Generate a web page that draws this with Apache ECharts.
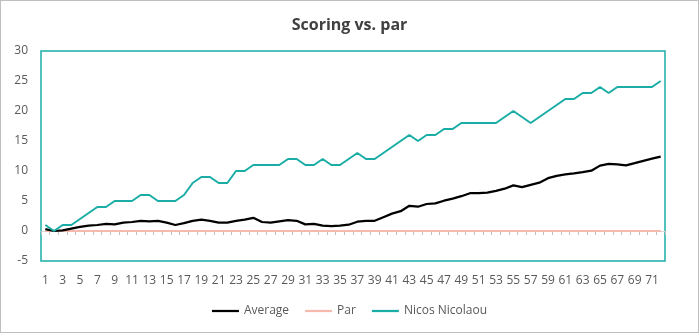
<!DOCTYPE html>
<html>
<head>
<meta charset="utf-8">
<script src="https://cdn.jsdelivr.net/npm/echarts@6/dist/echarts.min.js"></script>
<style>
html,body{margin:0;padding:0;background:#fff;}
#c{width:699px;height:333px;box-sizing:border-box;border:1px solid #bfbfbf;}
</style>
</head>
<body>
<div id="c"></div>
<script>
const rounds = ['1','2','3','4','5','6','7','8','9','10','11','12','13','14','15','16','17','18','19','20','21','22','23','24','25','26','27','28','29','30','31','32','33','34','35','36','37','38','39','40','41','42','43','44','45','46','47','48','49','50','51','52','53','54','55','56','57','58','59','60','61','62','63','64','65','66','67','68','69','70','71','72'];
const average = [0.3,0.0,0.1,0.4,0.7,0.9,1.0,1.2,1.1,1.4,1.5,1.7,1.6,1.7,1.4,1.0,1.3,1.7,1.9,1.7,1.4,1.4,1.7,1.9,2.2,1.5,1.4,1.6,1.8,1.7,1.1,1.2,0.9,0.8,0.9,1.05,1.55,1.7,1.7,2.3,2.9,3.3,4.2,4.05,4.5,4.6,5.05,5.4,5.8,6.3,6.3,6.4,6.7,7.05,7.6,7.3,7.7,8.05,8.8,9.2,9.45,9.6,9.8,10.05,10.9,11.2,11.1,10.95,11.3,11.7,12.05,12.4];
const par = [0,0,0,0,0,0,0,0,0,0,0,0,0,0,0,0,0,0,0,0,0,0,0,0,0,0,0,0,0,0,0,0,0,0,0,0,0,0,0,0,0,0,0,0,0,0,0,0,0,0,0,0,0,0,0,0,0,0,0,0,0,0,0,0,0,0,0,0,0,0,0,0];
const nicos = [1,0,1,1,2,3,4,4,5,5,5,6,6,5,5,5,6,8,9,9,8,8,10,10,11,11,11,11,12,12,11,11,12,11,11,12,13,12,12,13,14,15,16,15,16,16,17,17,18,18,18,18,18,19,20,19,18,19,20,21,22,22,23,23,24,23,24,24,24,24,24,25];
const yTicks = {min:-5, max:30, step:5};

const FONT = '"Open Sans", "Noto Sans", sans-serif';
const TEAL = '#1aada5';
const chart = echarts.init(document.getElementById('c'), null, {renderer:'canvas'});
chart.setOption({
  animation:false,
  backgroundColor:'#fff',
  title:{
    text:'Scoring vs. par', left:'center', top:11,
    textStyle:{fontFamily:FONT, fontSize:16, fontWeight:'bold', color:'#404040'}
  },
  legend:{
    bottom:10, left:'center', icon:'rect', itemWidth:27, itemHeight:2.25, itemGap:16,
    textStyle:{fontFamily:FONT, fontSize:12, color:'#595959'},
    data:['Average','Par','Nicos Nicolaou']
  },
  grid:{left:40, right:33, top:50, bottom:71, show:true, borderColor:TEAL, borderWidth:1.5, containLabel:false},
  xAxis:[{
    type:'category', data:rounds, boundaryGap:true, position:'bottom',
    axisLine:{show:true, onZero:true, lineStyle:{color:'#d9d9d9', width:1}},
    axisTick:{show:true, interval:0, inside:false, length:4, lineStyle:{color:'#bfbfbf'}},
    axisLabel:{show:false}
  },{
    type:'category', data:rounds, boundaryGap:true, position:'bottom',
    axisLine:{show:false, onZero:false}, axisTick:{show:false},
    axisLabel:{show:true, interval:1, margin:14, fontFamily:FONT, fontSize:12, color:'#595959'}
  }],
  yAxis:{
    type:'value', min:yTicks.min, max:yTicks.max, interval:yTicks.step,
    axisLine:{show:false}, axisTick:{show:false}, splitLine:{show:false},
    axisLabel:{margin:13, fontFamily:FONT, fontSize:12, color:'#595959'}
  },
  series:[
    {name:'Average', type:'line', data:average, xAxisIndex:0, symbol:'none', lineStyle:{color:'#000', width:2.25}, itemStyle:{color:'#000'}, z:3},
    {name:'Par', type:'line', data:par, xAxisIndex:0, symbol:'none', lineStyle:{color:'#f7b9ad', width:2}, itemStyle:{color:'#f7b9ad'}, z:2},
    {name:'Nicos Nicolaou', type:'line', data:nicos, xAxisIndex:0, symbol:'none', lineStyle:{color:TEAL, width:2}, itemStyle:{color:TEAL}, z:4}
  ]
});
</script>
</body>
</html>
